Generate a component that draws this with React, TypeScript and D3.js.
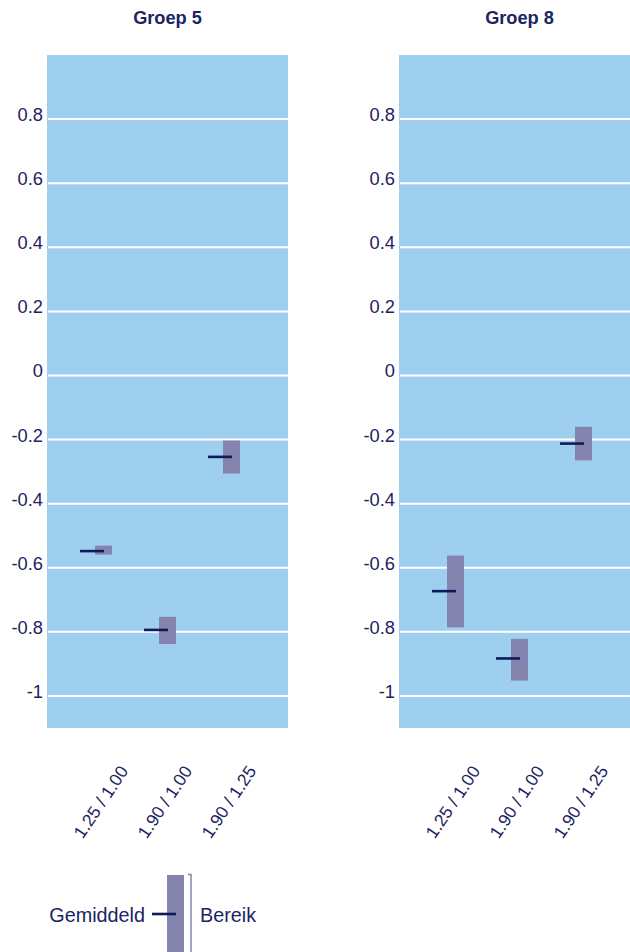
import * as d3 from 'd3'

const categories = ['1.25 / 1.00', '1.90 / 1.00', '1.90 / 1.25']
const groupTitles = ['Groep 5', 'Groep 8']

// gemiddeld + bereik (laag / hoog) per groep
const g5Mean = [-0.548, -0.794, -0.254]
const g5Low = [-0.559, -0.838, -0.306]
const g5High = [-0.531, -0.753, -0.203]
const g8Mean = [-0.673, -0.883, -0.2125]
const g8Low = [-0.786, -0.952, -0.265]
const g8High = [-0.562, -0.822, -0.16]

const yTicks = [0.8, 0.6, 0.4, 0.2, 0, -0.2, -0.4, -0.6, -0.8, -1]

const W = 630
const H = 952
const TEXT = '#1b2462'
const BG = '#9ecfee'
const BOX = '#8584ae'
const MEAN = '#0e1a5a'
const FONT = '"Liberation Sans", Arial, sans-serif'

const PANEL_W = 241
const TOP = 55
const BOTTOM = 728

const y = d3.scaleLinear().domain([-1.1, 1.0]).range([BOTTOM, TOP])

const Panel = ({ left, title, mean, low, high }: { left: number, title: string, mean: number[], low: number[], high: number[] }) => {
  const x = d3.scalePoint<string>().domain(categories).range([0, PANEL_W]).padding(0.883)
  return <g transform={`translate(${left},0)`}>
    <text x={PANEL_W / 2} y={24} textAnchor="middle" fontWeight="bold" fontSize={18.2} fill={TEXT}>{title}</text>
    <rect x={0} y={TOP} width={PANEL_W} height={BOTTOM - TOP} fill={BG} />
    {yTicks.map(t => <g key={t}>
      <line x1={1} x2={PANEL_W} y1={y(t)} y2={y(t)} stroke="#fff" strokeWidth={2} />
      <text x={-4} y={y(t) + 2} textAnchor="end" fontSize={18.3} fill={TEXT}>{String(+t.toFixed(1))}</text>
    </g>)}
    {categories.map((c, i) => {
      const cx = x(c) as number
      return <g key={c}>
        <rect x={cx - 8.5} y={y(high[i])} width={17} height={y(low[i]) - y(high[i])} fill={BOX} />
        <line x1={cx - 23.5} x2={cx + 0.5} y1={y(mean[i])} y2={y(mean[i])} stroke={MEAN} strokeWidth={2.6} />
        <text transform={`translate(${cx + 25.5},771) rotate(-56)`} textAnchor="end" fontSize={17.5} fill={TEXT}>{c}</text>
      </g>
    })}
  </g>
}

export default function App() {
  return <svg width={W} height={H} style={{ position: 'absolute', left: 0, top: 0 }} fontFamily={FONT}>
    <Panel left={47} title={groupTitles[0]} mean={g5Mean} low={g5Low} high={g5High} />
    <Panel left={399} title={groupTitles[1]} mean={g8Mean} low={g8Low} high={g8High} />
    {/* legenda */}
    <g>
      <text x={145} y={922} textAnchor="end" fontSize={19.8} fill={TEXT}>Gemiddeld</text>
      <rect x={167} y={875} width={17} height={H - 875} fill={BOX} />
      <line x1={152} x2={176} y1={914} y2={914} stroke={MEAN} strokeWidth={2.6} />
      <path d={`M188,874.5H191V${H}`} fill="none" stroke={BOX} strokeWidth={1.5} />
      <text x={200} y={922} fontSize={19.8} fill={TEXT}>Bereik</text>
    </g>
  </svg>
}
